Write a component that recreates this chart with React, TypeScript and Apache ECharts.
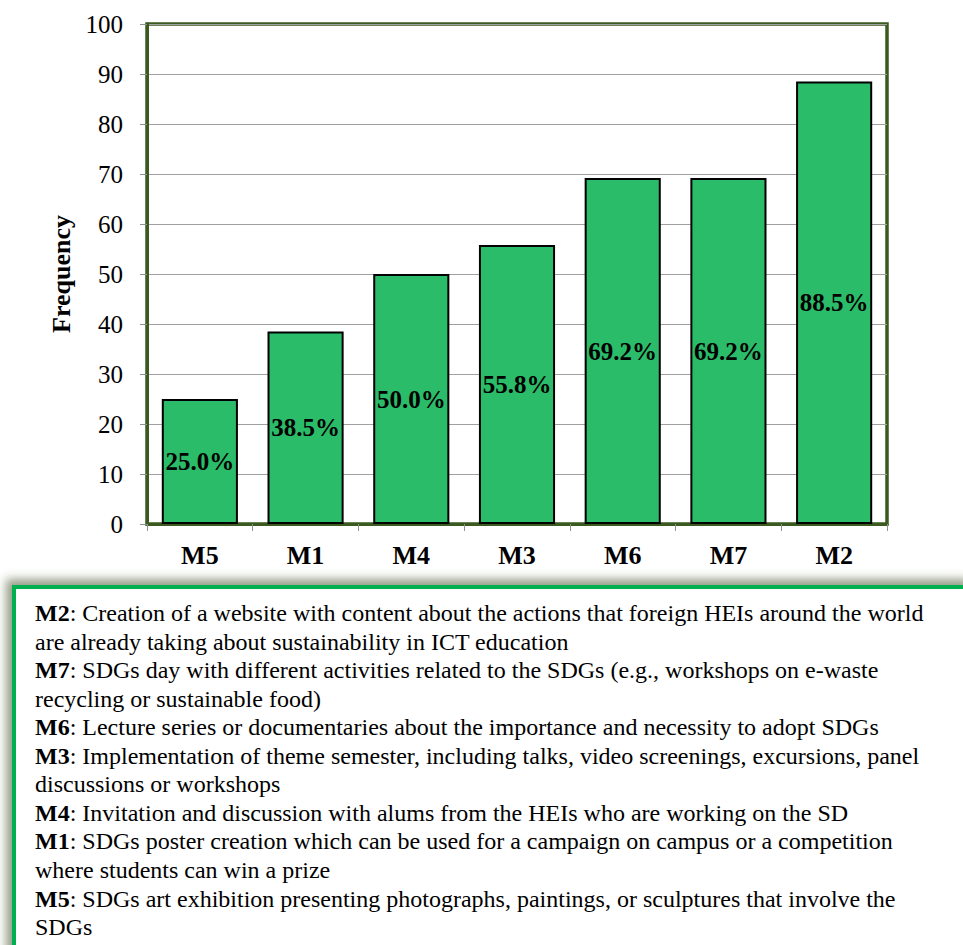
import React, { useEffect, useRef } from "react";
import * as echarts from "echarts";

const categories = ["M5", "M1", "M4", "M3", "M6", "M7", "M2"];
const values = [25.0, 38.5, 50.0, 55.8, 69.2, 69.2, 88.5];
const yTicks = { min: 0, max: 100, interval: 10 };

// legend lines: [bold code, rest of text]
const legendLines: [string, string][] = [
  ["M2", ": Creation of a website with content about the actions that foreign HEIs around the world"],
  ["", "are already taking about sustainability in ICT education"],
  ["M7", ": SDGs day with different activities related to the SDGs (e.g., workshops on e-waste"],
  ["", "recycling or sustainable food)"],
  ["M6", ": Lecture series or documentaries about the importance and necessity to adopt SDGs"],
  ["M3", ": Implementation of theme semester, including talks, video screenings, excursions, panel"],
  ["", "discussions or workshops"],
  ["M4", ": Invitation and discussion with alums from the HEIs who are working on the SD"],
  ["M1", ": SDGs poster creation which can be used for a campaign on campus or a competition"],
  ["", "where students can win a prize"],
  ["M5", ": SDGs art exhibition presenting photographs, paintings, or sculptures that involve the"],
  ["", "SDGs"],
];

const SERIF = "Liberation Serif";

export default function App() {
  const ref = useRef<HTMLDivElement>(null);
  useEffect(() => {
    document.body.style.margin = "0";
    const chart = echarts.init(ref.current!, null, { renderer: "svg" });
    const lineTexts = legendLines.map(([b, t], i) => ({
      type: "text",
      left: 35,
      top: 601 + i * 28.55,
      z: 10,
      style: {
        text: (b ? `{b|${b}}` : "") + `{n|${t}}`,
        rich: {
          b: { fontFamily: SERIF, fontSize: 24, fontWeight: "bold", fill: "#000", lineHeight: 28 },
          n: { fontFamily: SERIF, fontSize: 24, fill: "#000", lineHeight: 28 },
        },
        fontFamily: SERIF,
        fontSize: 24,
      },
    }));
    chart.setOption({
      animation: false,
      backgroundColor: "#fff",
      textStyle: { fontFamily: SERIF },
      grid: {
        left: 147,
        right: 76,
        top: 24,
        bottom: 421,
        containLabel: false,
        show: true,
        borderColor: "#3b5a20",
        borderWidth: 3.5,
      },
      xAxis: {
        type: "category",
        data: categories,
        axisLine: { show: true, lineStyle: { color: "#3b5a20", width: 3 } },
        axisTick: { show: true, length: 7, lineStyle: { color: "#909090" } },
        axisLabel: {
          fontFamily: SERIF,
          fontSize: 26,
          fontWeight: "bold",
          color: "#000",
          margin: 18,
        },
      },
      yAxis: {
        type: "value",
        min: yTicks.min,
        max: yTicks.max,
        interval: yTicks.interval,
        name: "Frequency",
        nameLocation: "middle",
        nameRotate: 90,
        nameGap: 67,
        nameTextStyle: { fontFamily: SERIF, fontSize: 26, fontWeight: "bold", color: "#000" },
        axisLine: { show: true, lineStyle: { color: "#3b5a20", width: 3 } },
        axisTick: { show: true, length: 7, lineStyle: { color: "#909090" } },
        axisLabel: { fontFamily: SERIF, fontSize: 25, color: "#000", margin: 24 },
        splitLine: { show: true, lineStyle: { color: "#a0a0a0", width: 1 } },
      },
      series: [
        {
          type: "bar",
          data: values,
          barWidth: "72%",
          itemStyle: { color: "#2bbc6a", borderColor: "#000", borderWidth: 2 },
          label: {
            show: true,
            position: "inside",
            formatter: (p: any) => Number(p.value).toFixed(1) + "%",
            fontFamily: SERIF,
            fontSize: 25,
            fontWeight: "bold",
            color: "#000",
          },
        },
      ],
      graphic: [
        {
          type: "rect",
          shape: { x: 14, y: 587, width: 960, height: 380 },
          style: {
            fill: "#fff",
            stroke: "#00b050",
            lineWidth: 4,
            shadowBlur: 10,
            shadowColor: "rgba(60,80,40,0.55)",
            shadowOffsetX: -6,
            shadowOffsetY: -6,
          },
          z: 5,
        },
        ...lineTexts,
      ],
    });
    return () => chart.dispose();
  }, []);
  return <div ref={ref} style={{ width: 963, height: 945 }} />;
}
